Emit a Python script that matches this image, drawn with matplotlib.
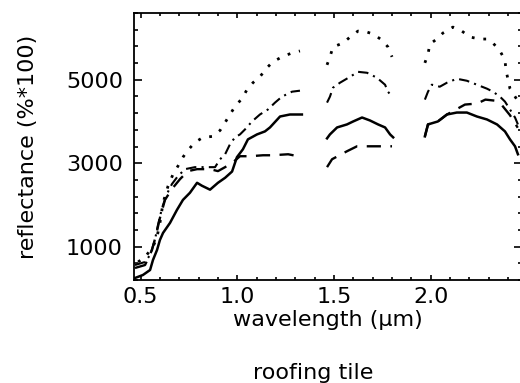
import numpy as np
import matplotlib
matplotlib.use("Agg")
import matplotlib.pyplot as plt
from matplotlib.ticker import FixedLocator, MultipleLocator

nan = np.nan

# Four reflectance spectra of a roofing tile; NaN marks the water-absorption gaps
dotted_wl = [0.487, 0.523, 0.564, 0.585, 0.600, 0.616, 0.642, 0.668, 0.693, 0.719,
             0.740, 0.781, 0.823, 0.874, 0.911, 0.937, 0.962, 0.988, 1.024, 1.050,
             1.081, 1.117, 1.153, 1.184, 1.231, 1.283, 1.324, nan,
             1.464, 1.479, 1.495, 1.547, 1.583, 1.624, 1.671, 1.702, 1.748, 1.779, 1.800, nan,
             1.970, 1.986, 1.996, 2.032, 2.063, 2.115, 2.161, 2.203, 2.255, 2.291,
             2.322, 2.358, 2.384, 2.389, 2.400, 2.410, 2.446]
dotted_refl = [632, 752, 993, 1233, 1568, 2048, 2452, 2738, 2929, 3143,
               3286, 3500, 3619, 3643, 3786, 3976, 4167, 4357, 4548, 4762,
               4929, 5071, 5286, 5429, 5548, 5643, 5690, nan,
               5357, 5548, 5786, 5881, 6024, 6167, 6143, 6095, 5952, 5786, 5548, nan,
               5405, 5619, 5857, 5976, 6119, 6262, 6167, 6024, 5976, 5976,
               5881, 5690, 5476, 5238, 5000, 4786, 4524]

dashdot_wl = [0.471, 0.523, 0.549, 0.574, 0.590, 0.611, 0.636, 0.662, 0.693, 0.730,
              0.781, 0.823, 0.885, 0.911, 0.937, 0.962, 0.988, 1.014, 1.040, 1.076,
              1.117, 1.158, 1.195, 1.231, 1.283, 1.324, nan,
              1.464, 1.479, 1.495, 1.531, 1.583, 1.624, 1.671, 1.722, 1.764, 1.779, 1.800, nan,
              1.970, 1.986, 2.006, 2.047, 2.084, 2.135, 2.187, 2.239, 2.291, 2.322,
              2.358, 2.384, 2.410, 2.436, 2.451]
dashdot_refl = [559, 632, 799, 1160, 1520, 1928, 2262, 2500, 2690, 2857,
                2905, 2905, 2905, 3095, 3214, 3452, 3619, 3690, 3810, 4000,
                4167, 4286, 4452, 4595, 4714, 4738, nan,
                4452, 4595, 4810, 4929, 5071, 5190, 5167, 5048, 4881, 4714, 4595, nan,
                4524, 4714, 4881, 4833, 4929, 5024, 4976, 4881, 4786, 4714,
                4595, 4476, 4286, 4095, 3929]

solid_wl = [0.471, 0.512, 0.549, 0.564, 0.585, 0.600, 0.616, 0.652, 0.688, 0.719,
            0.755, 0.792, 0.817, 0.859, 0.900, 0.937, 0.973, 0.998, 1.029, 1.055,
            1.102, 1.143, 1.169, 1.221, 1.272, 1.334, nan,
            1.464, 1.479, 1.516, 1.567, 1.599, 1.645, 1.686, 1.728, 1.764, 1.790, 1.806, nan,
            1.970, 1.986, 2.037, 2.084, 2.135, 2.187, 2.239, 2.291, 2.343, 2.384,
            2.410, 2.436, 2.451]
solid_refl = [248, 320, 440, 680, 920, 1160, 1328, 1568, 1880, 2120,
              2290, 2530, 2460, 2365, 2530, 2650, 2800, 3143, 3333, 3571,
              3690, 3762, 3857, 4119, 4167, 4167, nan,
              3595, 3690, 3857, 3929, 4000, 4095, 4024, 3929, 3857, 3690, 3619, nan,
              3643, 3929, 4000, 4167, 4214, 4214, 4119, 4048, 3929, 3762,
              3571, 3405, 3214]

dashed_wl = [0.471, 0.523, 0.559, 0.580, 0.600, 0.626, 0.662, 0.704, 0.745, 0.792,
             0.859, 0.900, 0.937, 0.978, 1.014, 1.066, 1.133, 1.180, 1.263, 1.314, nan,
             1.464, 1.490, 1.567, 1.619, 1.702, 1.753, 1.800, nan,
             1.970, 1.986, 2.037, 2.084, 2.177, 2.240, 2.283, 2.330, 2.370, 2.410, 2.450]
dashed_refl = [488, 559, 920, 1280, 1688, 2120, 2381, 2619, 2810, 2857,
               2857, 2810, 2905, 3024, 3167, 3167, 3190, 3190, 3214, 3167, nan,
               2905, 3095, 3286, 3405, 3405, 3405, 3405, nan,
               3643, 3929, 4000, 4167, 4405, 4430, 4524, 4500, 4380, 4150, 3850]

x_major = [0.5, 1.0, 1.5, 2.0]
x_labels = ["0.5", "1.0", "1.5", "2.0"]
y_major = [1000, 3000, 5000]
y_labels = ["1000", "3000", "5000"]

W, H = 520, 383
fig = plt.figure(figsize=(W / 100, H / 100), dpi=100)
ax = fig.add_axes([134 / W, (H - 280) / H, (521.5 - 134) / W, (280 - 13) / H])

lw = 1.5
ax.plot(dotted_wl, dotted_refl, color="black", lw=lw + 0.5, linestyle=(0, (1, 3.2)))
ax.plot(dashdot_wl, dashdot_refl, color="black", lw=lw, linestyle=(0, (5, 2.5, 1, 2.5)))
ax.plot(solid_wl, solid_refl, color="black", lw=lw + 0.3, linestyle="-")
ax.plot(dashed_wl, dashed_refl, color="black", lw=lw + 0.2, linestyle=(0, (6, 4)))

ax.set_xlim(0.4659, 2.4695)
ax.set_ylim(200, 6600)

ax.xaxis.set_major_locator(FixedLocator(x_major))
ax.set_xticklabels(x_labels)
ax.xaxis.set_minor_locator(MultipleLocator(0.1))
ax.yaxis.set_major_locator(FixedLocator(y_major))
ax.set_yticklabels(y_labels)
ax.yaxis.set_minor_locator(FixedLocator(np.arange(200, 6700, 400)))

ax.tick_params(axis="both", which="both", direction="in", top=True, right=True,
               color="black", width=1.2)
ax.tick_params(axis="x", which="major", length=3.8, pad=5, labelsize=16)
ax.tick_params(axis="x", which="minor", length=2.0)
ax.tick_params(axis="y", which="major", length=5.6, pad=8, labelsize=16)
ax.tick_params(axis="y", which="minor", length=2.8)
for s in ax.spines.values():
    s.set_linewidth(1.3)

ax.set_xlabel("wavelength (\u00b5m)", fontsize=16, labelpad=2)
ax.set_ylabel("reflectance (%*100)", fontsize=16, labelpad=20)
fig.text(313 / W, 1 - 373 / H, "roofing tile", fontsize=16, ha="center", va="center")

fig.savefig("out.png", dpi=100)
